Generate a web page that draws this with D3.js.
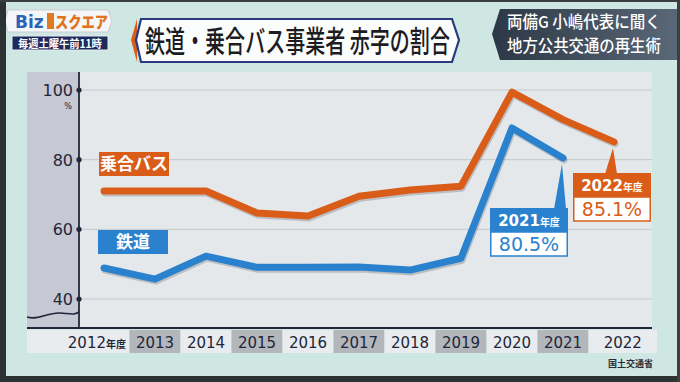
<!DOCTYPE html>
<html>
<head>
<meta charset="utf-8">
<script src="https://cdn.jsdelivr.net/npm/d3@7"></script>
<style>
	body { margin: 0; background: #cfe7e2; }
	svg { display: block; }
	.jp { font-family: "Noto Sans CJK JP", "Noto Sans", sans-serif; }
	.num { font-family: "DejaVu Sans", sans-serif; }
</style>
</head>
<body>
<div id="graphic"></div>
<script>

// =========================================
// 鉄道・乗合バス事業者 赤字の割合 (line chart)
// =========================================

var years = ['2012', '2013', '2014', '2015', '2016', '2017', '2018', '2019', '2020', '2021', '2022'];
var busValues = [71.0, 71.0, 71.0, 64.7, 63.8, 69.5, 71.3, 72.4, 99.4, 91.5, 85.1];
var railValues = [48.9, 45.7, 52.3, 49.1, 49.1, 49.2, 48.3, 51.7, 89.1, 80.5];
var yTicks = [40, 60, 80, 100];

var busLabel = '乗合バス';
var railLabel = '鉄道';
var titleText = '鉄道・乗合バス事業者 赤字の割合';
var sourceText = '国土交通省';
var headerLines = ['両備G 小嶋代表に聞く', '地方公共交通の再生術'];

renderGraphic({
	container: 'graphic',
	width: 680,
	height: 382
});

function renderGraphic(config) {

	var width = config.width,
		height = config.height;

	var orange = '#d95d18',
		blue = '#2a82cf',
		ink = '#22263a';

	var panel = { left: 27, right: 652, top: 72, bottom: 328 };
	var axisX = 79;

	var svg = d3.select('#' + config.container).append('svg')
		.attr('width', width)
		.attr('height', height);

	// background
	svg.append('rect').attr('width', width).attr('height', height).attr('fill', '#cfe7e2');

	var defs = svg.append('defs');
	var hg = defs.append('linearGradient').attr('id', 'hdr').attr('x1', 0).attr('x2', 1);
	hg.append('stop').attr('offset', '0%').attr('stop-color', '#2c3846');
	hg.append('stop').attr('offset', '100%').attr('stop-color', '#5b6877');

	// squeeze a text horizontally to a given width (tv fonts are condensed)
	function squeeze(sel, x0, y0, targetWidth) {
		sel.each(function() {
			var len = this.getComputedTextLength();
			var k = Math.min(1, targetWidth / len);
			d3.select(this).attr('transform', 'translate(' + x0 + ',' + y0 + ') scale(' + k + ',1)');
		});
	}

	// scales
	var x = d3.scalePoint().domain(years).range([104, 614]);
	var y = d3.scaleLinear().domain([40, 100]).range([299, 90]);
	var step = x.step();

	// 1. plot panel
	svg.append('rect')
		.attr('x', panel.left).attr('y', panel.top)
		.attr('width', panel.right - panel.left).attr('height', panel.bottom - panel.top)
		.attr('fill', '#e4e8eb');
	svg.append('rect')
		.attr('x', panel.left).attr('y', panel.top)
		.attr('width', axisX - panel.left).attr('height', panel.bottom - panel.top)
		.attr('fill', '#c6c8d4');

	// gridlines
	svg.append('g').selectAll('line')
		.data(yTicks).enter().append('line')
		.attr('x1', axisX).attr('x2', panel.right)
		.attr('y1', function(d) { return y(d); })
		.attr('y2', function(d) { return y(d); })
		.attr('stroke', '#c3c8cd').attr('stroke-width', 1);

	// wavy axis break
	svg.append('path')
		.attr('d', 'M' + panel.left + ',317 C38,321 48,312 60,313 S74,315 ' + axisX + ',312')
		.attr('fill', 'none').attr('stroke', ink).attr('stroke-width', 1.6);

	// y axis
	svg.append('line')
		.attr('x1', axisX).attr('x2', axisX)
		.attr('y1', panel.top).attr('y2', panel.bottom)
		.attr('stroke', ink).attr('stroke-width', 1.8);

	var yticks = svg.append('g').selectAll('g.tick')
		.data(yTicks).enter().append('g')
		.attr('class', 'tick')
		.attr('transform', function(d) { return 'translate(0,' + y(d) + ')'; });
	yticks.append('circle').attr('cx', axisX).attr('r', 2.6).attr('fill', ink);
	yticks.append('text')
		.attr('class', 'num')
		.attr('x', 73).attr('dy', 6)
		.attr('text-anchor', 'end')
		.attr('font-size', 16)
		.attr('fill', ink)
		.text(function(d) { return d; });
	svg.append('text')
		.attr('class', 'num')
		.attr('x', 68).attr('y', y(100) + 19)
		.attr('text-anchor', 'middle')
		.attr('font-size', 8).attr('fill', ink)
		.text('%');

	// x axis baseline
	svg.append('line')
		.attr('x1', panel.left).attr('x2', panel.right)
		.attr('y1', panel.bottom).attr('y2', panel.bottom)
		.attr('stroke', ink).attr('stroke-width', 2);

	// 2. year row
	var cells = svg.append('g').selectAll('g.cell')
		.data(years).enter().append('g')
		.attr('class', 'cell');
	function cellX0(d, i) { return i == 0 ? panel.left : x(d) - step / 2; }
	function cellX1(d, i) { return i == years.length - 1 ? 657 : x(d) + step / 2; }
	cells.append('rect')
		.attr('x', cellX0)
		.attr('y', 330)
		.attr('width', function(d, i) { return cellX1(d, i) - cellX0(d, i); })
		.attr('height', 23)
		.attr('fill', function(d, i) { return i % 2 ? '#b3b6ba' : '#e8ecee'; });
	var yearText = cells.append('text')
		.attr('class', 'num')
		.attr('x', function(d, i) {
			if (i == 0) return 126;
			return (cellX0(d, i) + cellX1(d, i)) / 2;
		})
		.attr('y', 348)
		.attr('text-anchor', function(d, i) { return i == 0 ? 'end' : 'middle'; })
		.attr('font-size', 15)
		.attr('fill', ink);
	yearText.append('tspan').text(function(d) { return d; });
	yearText.filter(function(d, i) { return i == 0; })
		.append('tspan').attr('class', 'jp').attr('font-size', 10).attr('font-weight', 700).text('年度');

	svg.append('text')
		.attr('class', 'jp')
		.attr('x', 653).attr('y', 367)
		.attr('text-anchor', 'end')
		.attr('font-size', 9).attr('font-weight', 700)
		.attr('fill', '#2a2e38')
		.text(sourceText);

	// 3. lines
	var line = d3.line()
		.x(function(d, i) { return x(years[i]); })
		.y(function(d) { return y(d); });

	[[busValues, orange], [railValues, blue]].forEach(function(s) {
		svg.append('path')
			.attr('d', line(s[0]))
			.attr('transform', 'translate(1,2)')
			.attr('fill', 'none').attr('stroke', 'rgba(40,40,50,0.22)')
			.attr('stroke-width', 7).attr('stroke-linejoin', 'round').attr('stroke-linecap', 'round');
		svg.append('path')
			.attr('d', line(s[0]))
			.attr('fill', 'none').attr('stroke', s[1])
			.attr('stroke-width', 7).attr('stroke-linejoin', 'round').attr('stroke-linecap', 'round');
	});

	// series labels
	function seriesLabel(txt, color, bx, by) {
		svg.append('rect').attr('x', bx).attr('y', by).attr('width', 70).attr('height', 24).attr('fill', color);
		svg.append('text').attr('class', 'jp')
			.attr('x', bx + 35).attr('y', by + 18)
			.attr('text-anchor', 'middle')
			.attr('font-size', 17).attr('font-weight', 700)
			.attr('fill', '#fff')
			.text(txt);
	}
	seriesLabel(busLabel, orange, 99, 152);
	seriesLabel(railLabel, blue, 98, 230);

	// 4. callouts for latest values
	function callout(yearIdx, values, color, bx, by) {
		var px = x(years[yearIdx]),
			py = y(values[yearIdx]);
		var bw = 78, hh = 24;
		svg.append('path')
			.attr('d', 'M' + (px - 9) + ',' + (by + 1) + 'L' + (px - 1) + ',' + (py + 6) + 'L' + (px + 3) + ',' + (by + 1) + 'Z')
			.attr('fill', color);
		svg.append('rect').attr('x', bx).attr('y', by).attr('width', bw).attr('height', hh).attr('fill', color);
		svg.append('rect').attr('x', bx + 0.75).attr('y', by + hh).attr('width', bw - 1.5).attr('height', hh)
			.attr('fill', '#fff').attr('stroke', color).attr('stroke-width', 1.5);
		var t = svg.append('text').attr('class', 'num')
			.attr('x', bx + bw / 2).attr('y', by + 18)
			.attr('text-anchor', 'middle')
			.attr('font-size', 15).attr('font-weight', 700).attr('fill', '#fff');
		t.append('tspan').text(years[yearIdx]);
		t.append('tspan').attr('class', 'jp').attr('font-size', 10).text('年度');
		svg.append('text').attr('class', 'num')
			.attr('x', bx + bw / 2).attr('y', by + hh + 19)
			.attr('text-anchor', 'middle')
			.attr('font-size', 19).attr('fill', color)
			.text(d3.format('.1f')(values[yearIdx]) + '%');
	}
	callout(9, railValues, blue, 490, 208);
	callout(10, busValues, orange, 573, 173);

	// 5. header: logo
	svg.append('path')
		.attr('d', 'M8,10 L108,10 L112,21 L108,32 L8,32 L5,21 Z')
		.attr('fill', '#f4f6f8').attr('stroke', '#c9ccd4');
	svg.append('text').attr('class', 'num')
		.attr('font-size', 17).attr('font-weight', 700).attr('fill', '#2b63b8')
		.text('Biz')
		.call(squeeze, 15, 28, 30);
	svg.append('rect').attr('x', 47).attr('y', 13).attr('width', 7).attr('height', 16).attr('fill', '#e07a22');
	svg.append('text').attr('class', 'jp')
		.attr('font-size', 16).attr('font-weight', 900).attr('fill', '#e2721c')
		.text('スクエア')
		.call(squeeze, 55, 28, 53);
	svg.append('rect').attr('x', 12).attr('y', 36).attr('width', 96).attr('height', 14)
		.attr('fill', '#1d2a5c').attr('stroke', '#e8ecf2').attr('stroke-width', 1);
	svg.append('text').attr('class', 'jp')
		.attr('font-size', 11).attr('font-weight', 700).attr('fill', '#fff')
		.text('毎週土曜午前11時')
		.call(squeeze, 18, 47.5, 84);

	// title box
	svg.append('path')
		.attr('d', 'M131,40 L137,19 L137,62 Z')
		.attr('fill', orange);
	svg.append('path')
		.attr('d', 'M141,19 L452,19 L459,40 L452,62 L141,62 L136,40 Z')
		.attr('fill', '#fbfcfc').attr('stroke', '#2a3a7c').attr('stroke-width', 2.2);
	svg.append('text').attr('class', 'jp')
		.attr('font-size', 30).attr('font-weight', 500).attr('fill', '#1c1c22')
		.text(titleText)
		.call(squeeze, 145, 52, 305);

	// right header panel
	svg.append('path')
		.attr('d', 'M500,9 L680,9 L680,60 L500,60 L492,34 Z')
		.attr('fill', 'url(#hdr)');
	headerLines.forEach(function(t, i) {
		svg.append('text')
			.attr('class', 'jp')
			.attr('font-size', 16.5).attr('font-weight', 500)
			.attr('fill', '#fff')
			.text(t)
			.call(squeeze, 507, 28 + i * 24, 154);
	});

	// bezel edges
	svg.append('rect').attr('x', 0).attr('y', 0).attr('width', 6).attr('height', height).attr('fill', '#2c3232');
	svg.append('rect').attr('x', 0).attr('y', 376).attr('width', width).attr('height', 6).attr('fill', '#2c3232');
	svg.append('rect').attr('x', 0).attr('y', 0).attr('width', width).attr('height', 2).attr('fill', '#3a4040');
	svg.append('rect').attr('x', 677).attr('y', 0).attr('width', 3).attr('height', height).attr('fill', '#3a4040');

} // end of renderGraphic()

</script>
</body>
</html>
